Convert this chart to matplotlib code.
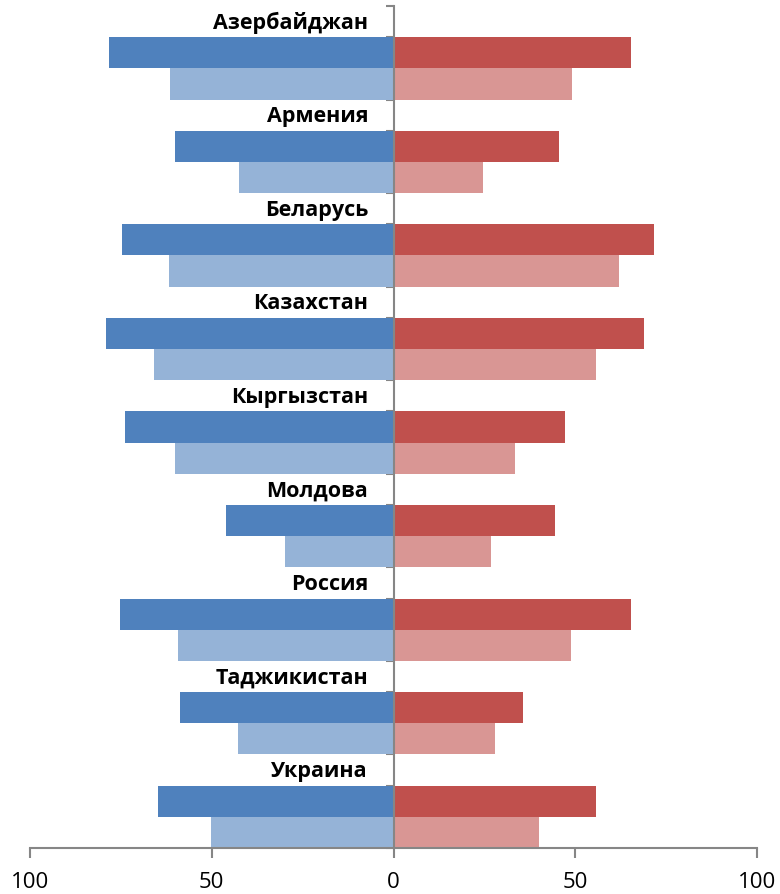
import matplotlib.pyplot as plt
import numpy as np

countries = ['Азербайджан', 'Армения', 'Беларусь', 'Казахстан', 'Кыргызстан',
             'Молдова', 'Россия', 'Таджикистан', 'Украина']
left_dark = [78.4, 60.2, 74.6, 79.2, 73.8, 46.0, 75.2, 58.6, 64.8]
left_light = [61.5, 42.5, 61.7, 65.9, 60.1, 29.8, 59.3, 42.7, 50.2]
right_dark = [65.3, 45.5, 71.6, 68.8, 47.3, 44.5, 65.4, 35.5, 55.8]
right_light = [49.0, 24.7, 61.9, 55.8, 33.5, 26.9, 48.7, 27.8, 39.9]
xticks = [-100, -50, 0, 50, 100]
xtick_labels = ['100', '50', '0', '50', '100']

fig = plt.figure(figsize=(7.8, 8.95), dpi=100)
ax = fig.add_axes([30 / 780, 1 - 849 / 895, 727 / 780, 842 / 895])

# each country takes three rows: name, dark bar, light bar
n = len(countries)
base = np.arange(n) * 3
y_dark = base + 1.5
y_light = base + 2.5

ax.barh(y_dark, -np.array(left_dark), height=1.0, color='#4F81BD', zorder=2)
ax.barh(y_light, -np.array(left_light), height=1.0, color='#95B3D7', zorder=2)
ax.barh(y_dark, right_dark, height=1.0, color='#C0504D', zorder=2)
ax.barh(y_light, right_light, height=1.0, color='#D99694', zorder=2)

for yb, name in zip(base, countries):
    ax.text(-7, yb + 0.52, name, ha='right', va='center', fontsize=15.5,
            fontweight='bold', family='Open Sans', color='black')

ax.set_xlim(-100, 100)
ax.set_ylim(3 * n, 0)

ax.set_xticks(xticks)
ax.set_xticklabels(xtick_labels, family='Open Sans', fontsize=16)
ax.set_yticks(np.arange(0, 3 * n + 1))
ax.set_yticklabels([])

for s in ['top', 'right']:
    ax.spines[s].set_visible(False)
ax.spines['left'].set_position(('data', 0))
for s in ['left', 'bottom']:
    ax.spines[s].set_color('#868686')
    ax.spines[s].set_linewidth(1.5)
    ax.spines[s].set_zorder(3)

ax.tick_params(axis='x', direction='out', length=7, width=1.5, color='#868686', pad=9.5)
ax.tick_params(axis='y', direction='out', length=6, width=1.5, color='#868686')

fig.savefig('out.png', dpi=100)
